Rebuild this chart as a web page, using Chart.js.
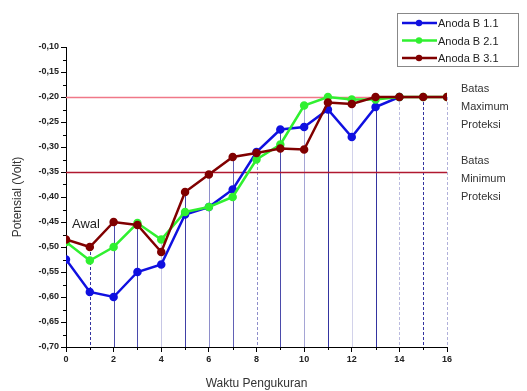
<!DOCTYPE html>
<html>
<head>
<meta charset="utf-8">
<script src="https://cdn.jsdelivr.net/npm/chart.js@4"></script>
<style>
  html, body { margin: 0; padding: 0; background: #fff; }
  #wrap { width: 527px; height: 391px; }
</style>
</head>
<body>
<div id="wrap"><canvas id="myChart" width="527" height="391"></canvas></div>
<script>
// data
var waktu = [0, 1, 2, 3, 4, 5, 6, 7, 8, 9, 10, 11, 12, 13, 14, 15, 16];
var anoda11 = [-0.525, -0.59, -0.60, -0.55, -0.535, -0.435, -0.42, -0.385, -0.31, -0.265, -0.26, -0.225, -0.28, -0.22, -0.20];
var anoda21 = [-0.49, -0.527, -0.50, -0.452, -0.485, -0.43, -0.42, -0.40, -0.325, -0.295, -0.217, -0.20, -0.205, -0.205, -0.20, -0.20, -0.20];
var anoda31 = [-0.485, -0.50, -0.45, -0.456, -0.51, -0.39, -0.355, -0.32, -0.312, -0.303, -0.305, -0.211, -0.214, -0.20, -0.20, -0.20, -0.20];
var seriesNames = ['Anoda B 1.1', 'Anoda B 2.1', 'Anoda B 3.1'];
var batasMax = -0.20;
var batasMin = -0.35;
var yTicks = [-0.10, -0.15, -0.20, -0.25, -0.30, -0.35, -0.40, -0.45, -0.50, -0.55, -0.60, -0.65, -0.70];

function toPoints(arr) {
  return arr.map(function (v, i) { return { x: waktu[i], y: v }; });
}

// vertical drop lines, one per x position (alpha / dash roughly as in picture)
var dropStyle = [
  [0, false], [0.9, true], [0.8, false], [0.8, false], [0.25, false], [0.85, false],
  [0.5, false], [0.7, false], [0.5, true], [0.8, false], [0.4, false], [0.9, false],
  [0.2, false], [0.9, false], [0.3, true], [0.9, true], [0.35, true]
];

var extras = {
  id: 'extras',
  beforeDatasetsDraw: function (chart) {
    var ctx = chart.ctx, xs = chart.scales.x, ys = chart.scales.y, a = chart.chartArea;
    ctx.save();
    // drop lines from the highest point at each x
    waktu.forEach(function (w, i) {
      var st = dropStyle[i];
      if (!st[0]) return;
      var top = Math.max(anoda11[i] !== undefined ? anoda11[i] : -1, anoda21[i], anoda31[i]);
      var px = Math.round(xs.getPixelForValue(w)) + 0.5;
      ctx.strokeStyle = 'rgba(30,30,150,' + st[0] + ')';
      ctx.lineWidth = 1;
      ctx.setLineDash(st[1] ? [3, 2] : []);
      ctx.beginPath();
      ctx.moveTo(px, ys.getPixelForValue(top));
      ctx.lineTo(px, a.bottom);
      ctx.stroke();
    });
    ctx.setLineDash([]);
    // limit lines
    var yMax = Math.round(ys.getPixelForValue(batasMax)) + 0.5;
    ctx.strokeStyle = '#f07888';
    ctx.lineWidth = 1.3;
    ctx.beginPath(); ctx.moveTo(a.left, yMax); ctx.lineTo(a.right, yMax); ctx.stroke();
    var yMin = Math.round(ys.getPixelForValue(batasMin)) + 0.5;
    ctx.strokeStyle = '#b01830';
    ctx.beginPath(); ctx.moveTo(a.left, yMin); ctx.lineTo(a.right, yMin); ctx.stroke();
    ctx.restore();
  },
  afterDraw: function (chart) {
    var ctx = chart.ctx, xs = chart.scales.x, ys = chart.scales.y, a = chart.chartArea;
    ctx.save();
    // minor ticks
    ctx.strokeStyle = '#000';
    ctx.lineWidth = 1;
    ctx.beginPath();
    for (var v = -0.675; v < -0.1; v += 0.05) {
      var py = Math.round(ys.getPixelForValue(v)) + 0.5;
      ctx.moveTo(a.left - 3, py); ctx.lineTo(a.left, py);
    }
    for (var w = 1; w < 16; w += 2) {
      var px = Math.round(xs.getPixelForValue(w)) + 0.5;
      ctx.moveTo(px, a.bottom); ctx.lineTo(px, a.bottom + 3);
    }
    ctx.stroke();

    // annotations
    ctx.fillStyle = '#333';
    ctx.font = '11px "Liberation Sans", Arial, sans-serif';
    ctx.textBaseline = 'middle';
    ctx.textAlign = 'left';
    var tx = a.right + 14;
    var y1 = ys.getPixelForValue(batasMax);
    ctx.fillText('Batas', tx, y1 - 8);
    ctx.fillText('Maximum', tx, y1 + 10);
    ctx.fillText('Proteksi', tx, y1 + 28);
    var y2 = ys.getPixelForValue(batasMin);
    ctx.fillText('Batas', tx, y2 - 11);
    ctx.fillText('Minimum', tx, y2 + 7);
    ctx.fillText('Proteksi', tx, y2 + 25);
    ctx.font = '13px "Liberation Sans", Arial, sans-serif';
    ctx.fillStyle = '#222';
    ctx.fillText('Awal', xs.getPixelForValue(0.25), ys.getPixelForValue(-0.455));

    // legend box
    var bx = 397, by = 13, bw = 121, bh = 53;
    ctx.fillStyle = '#fff';
    ctx.fillRect(bx, by, bw, bh);
    ctx.strokeStyle = '#888';
    ctx.lineWidth = 1;
    ctx.strokeRect(bx + 0.5, by + 0.5, bw, bh);
    ctx.font = '11px "Liberation Sans", Arial, sans-serif';
    chart.data.datasets.forEach(function (ds, i) {
      var ly = by + 10 + i * 17.5;
      ctx.strokeStyle = ds.borderColor;
      ctx.lineWidth = 2.5;
      ctx.beginPath(); ctx.moveTo(bx + 5, ly); ctx.lineTo(bx + 40, ly); ctx.stroke();
      ctx.fillStyle = ds.backgroundColor;
      ctx.beginPath(); ctx.arc(bx + 22, ly, 3.2, 0, Math.PI * 2); ctx.fill();
      ctx.fillStyle = '#222';
      ctx.fillText(ds.label, bx + 41, ly + 1);
    });
    ctx.restore();
  }
};

var graph = document.getElementById('myChart');

var myChart = new Chart(graph, {
  type: 'line',
  data: {
    datasets: [{
      label: seriesNames[0],
      data: toPoints(anoda11),
      borderColor: '#1010e0',
      backgroundColor: '#1010e0',
      borderWidth: 2.5,
      pointRadius: 3,
      tension: 0,
      order: 3
    }, {
      label: seriesNames[1],
      data: toPoints(anoda21),
      borderColor: '#30f030',
      backgroundColor: '#30f030',
      borderWidth: 2.5,
      pointRadius: 3,
      tension: 0,
      order: 2
    }, {
      label: seriesNames[2],
      data: toPoints(anoda31),
      borderColor: '#800000',
      backgroundColor: '#800000',
      borderWidth: 2.5,
      pointRadius: 3,
      tension: 0,
      order: 1
    }]
  },
  options: {
    responsive: false,
    animation: false,
    layout: { padding: { top: 47, right: 80, left: 10, bottom: 0 } },
    plugins: {
      legend: { display: false },
      tooltip: { enabled: false }
    },
    scales: {
      x: {
        type: 'linear',
        min: 0,
        max: 16,
        border: { display: true, color: '#000', width: 1 },
        grid: { display: true, drawOnChartArea: false, drawTicks: true, tickLength: 5, color: '#000' },
        ticks: {
          stepSize: 2,
          color: '#222',
          padding: 2,
          font: { family: '"Liberation Sans", Arial, sans-serif', size: 9, weight: 'bold' }
        },
        title: {
          display: true,
          text: 'Waktu Pengukuran',
          color: '#333',
          padding: { top: 8, bottom: 0 },
          font: { family: '"Liberation Sans", Arial, sans-serif', size: 12 }
        },
        afterFit: function (scale) { scale.height = 44; }
      },
      y: {
        min: -0.70,
        max: -0.10,
        border: { display: true, color: '#000', width: 1 },
        grid: { display: true, drawOnChartArea: false, drawTicks: true, tickLength: 5, color: '#000' },
        afterBuildTicks: function (scale) {
          scale.ticks = yTicks.map(function (v) { return { value: v }; });
        },
        ticks: {
          color: '#222',
          padding: 2,
          font: { family: '"Liberation Sans", Arial, sans-serif', size: 9, weight: 'bold' },
          callback: function (v) { return v.toFixed(2).replace('.', ','); }
        },
        title: {
          display: true,
          text: 'Potensial (Volt)',
          color: '#333',
          padding: { top: 0, bottom: 2 },
          font: { family: '"Liberation Sans", Arial, sans-serif', size: 12 }
        },
        afterFit: function (scale) { scale.width = 56; }
      }
    }
  },
  plugins: [extras]
});
</script>
</body>
</html>
